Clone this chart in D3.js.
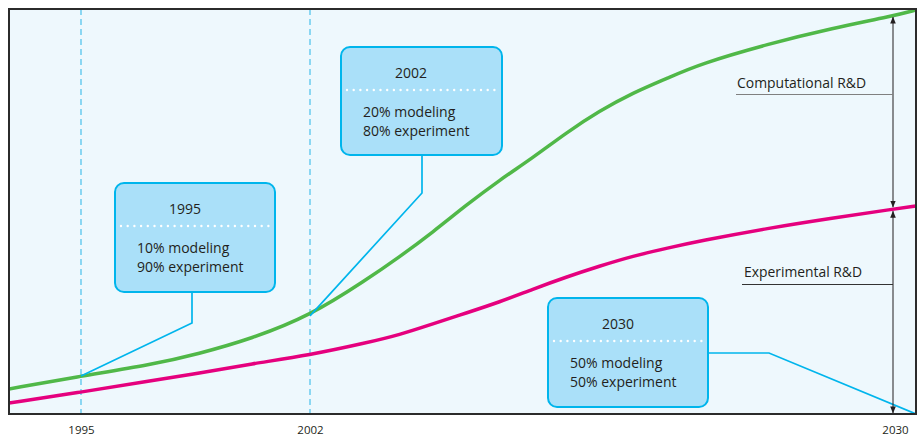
<!DOCTYPE html>
<html>
<head>
<meta charset="utf-8">
<script src="https://cdn.jsdelivr.net/npm/d3@7"></script>
<style>
  html, body { margin: 0; padding: 0; background: #ffffff; }
  svg { display: block; }
  text { font-family: "Open Sans", "Noto Sans", sans-serif; fill: #231f20; }
</style>
</head>
<body>
<svg id="chart" width="917" height="438"></svg>
<script>
// ---------- data ----------
const years = [1992.8, 1995, 1997.1, 1998.6, 2000.2, 2002, 2004.7, 2006.3, 2007.9, 2009.5, 2011.1, 2012.7, 2014.3, 2015.9, 2017.5, 2019.2, 2020.7, 2024.0, 2027.1, 2030, 2031.1];
const computational = [6.2, 9.4, 12.1, 14.9, 18.6, 24.3, 33.2, 38.9, 45.0, 51.7, 57.9, 63.4, 69.6, 75.0, 79.5, 83.2, 86.6, 91.6, 95.5, 98.5, 100];
const experimental = [2.7, 5.4, 8.2, 10.1, 12.4, 14.6, 17.6, 19.6, 22.3, 25.0, 27.7, 30.9, 33.9, 36.6, 39.1, 41.1, 42.8, 46.0, 48.5, 50.7, 51.5];
const tickYears = [1995, 2002, 2030];
const calloutYears = [1995, 2002, 2030];
const modelingShare = ["10%", "20%", "50%"];
const experimentShare = ["90%", "80%", "50%"];
const seriesNames = ["Computational R&D", "Experimental R&D"];

// ---------- layout ----------
const L = 9, T = 9, R = 916, B = 414;
const svg = d3.select("#chart");

// schematic (piecewise) time axis
const x = d3.scaleLinear()
  .domain([1992.8, 1995, 2002, 2030, 2031.1])
  .range([L, 81, 310, 893, R]);
const y = d3.scaleLinear().domain([0, 100]).range([B, T + 1]);

const colors = { comp: "#50b848", exp: "#e5007e", cyan: "#00b5ec", boxFill: "#aae0f9", bg: "#eef8fd" };

// background
svg.append("rect").attr("x", L).attr("y", T).attr("width", R - L).attr("height", B - T)
  .attr("fill", colors.bg);

// dashed year guides
svg.selectAll("line.guide").data([1995, 2002]).join("line")
  .attr("class", "guide")
  .attr("x1", d => x(d)).attr("x2", d => x(d))
  .attr("y1", T).attr("y2", B)
  .attr("stroke", "#29b5e8").attr("stroke-width", 1)
  .attr("stroke-dasharray", "6,4");

// lines
const line = d3.line().x(d => x(d[0])).y(d => y(d[1])).curve(d3.curveBasis);
const compData = years.map((yr, i) => [yr, computational[i]]);
const expData = years.map((yr, i) => [yr, experimental[i]]);

svg.append("clipPath").attr("id", "clip").append("rect")
  .attr("x", L).attr("y", T).attr("width", R - L).attr("height", B - T);
const g = svg.append("g").attr("clip-path", "url(#clip)");

const boxes = [
  { x: 115, y: 183, w: 160, h: 109, elbow: [192, 323], from: [192, 292] },
  { x: 341, y: 47, w: 161, h: 108, elbow: [422, 193], from: [422, 155] },
  { x: 548, y: 298, w: 160, h: 109, elbow: [769, 353], from: [708, 353] }
];
function anchor(i) {
  if (i === 2) return [x(2031.1), B];
  const idx = years.indexOf(calloutYears[i]);
  return [x(calloutYears[i]), y(computational[idx])];
}

g.append("path").attr("d", line(expData)).attr("fill", "none")
  .attr("stroke", colors.exp).attr("stroke-width", 3.5);
g.append("path").attr("d", line(compData)).attr("fill", "none")
  .attr("stroke", colors.comp).attr("stroke-width", 3.5);

boxes.forEach((b, i) => {
  const a = anchor(i);
  g.append("polyline")
    .attr("points", [b.from, b.elbow, a].map(p => p.join(",")).join(" "))
    .attr("fill", "none").attr("stroke", colors.cyan).attr("stroke-width", 1.7);
});

// callout boxes
boxes.forEach((b, i) => {
  const bg = svg.append("g");
  bg.append("rect").attr("x", b.x).attr("y", b.y).attr("width", b.w).attr("height", b.h)
    .attr("rx", 9).attr("ry", 9)
    .attr("fill", colors.boxFill).attr("stroke", colors.cyan).attr("stroke-width", 2);
  bg.append("text").attr("x", b.x + 70).attr("y", b.y + 31)
    .attr("text-anchor", "middle").attr("font-size", 14).text(calloutYears[i]);
  bg.append("line").attr("x1", b.x + 6).attr("x2", b.x + b.w - 4)
    .attr("y1", b.y + 43).attr("y2", b.y + 43)
    .attr("stroke", "#ffffff").attr("stroke-width", 2.4)
    .attr("stroke-linecap", "round").attr("stroke-dasharray", "0,6.7");
  bg.append("text").attr("x", b.x + 22).attr("y", b.y + 70)
    .attr("font-size", 14).text(modelingShare[i] + " modeling");
  bg.append("text").attr("x", b.x + 22).attr("y", b.y + 89)
    .attr("font-size", 14).text(experimentShare[i] + " experiment");
});

// right-side measurement arrows
const ax = x(2030);
const idx2030 = years.indexOf(2030);
const yComp = y(computational[idx2030]);
const yExp = y(experimental[idx2030]);
const defs = svg.append("defs");
defs.append("marker").attr("id", "arr").attr("viewBox", "0 0 8 8")
  .attr("refX", 7.5).attr("refY", 4).attr("markerWidth", 7).attr("markerHeight", 7)
  .attr("orient", "auto-start-reverse").attr("markerUnits", "userSpaceOnUse")
  .append("path").attr("d", "M0,0.8 L8,4 L0,7.2 Z").attr("fill", "#231f20");

svg.append("line").attr("x1", ax).attr("x2", ax).attr("y1", yComp + 1).attr("y2", yExp - 2)
  .attr("stroke", "#231f20").attr("stroke-width", 1)
  .attr("marker-start", "url(#arr)").attr("marker-end", "url(#arr)");
svg.append("line").attr("x1", ax).attr("x2", ax).attr("y1", yExp + 2).attr("y2", B - 1)
  .attr("stroke", "#231f20").attr("stroke-width", 1)
  .attr("marker-start", "url(#arr)").attr("marker-end", "url(#arr)");

// series labels with leader lines
const labels = [
  { name: seriesNames[0], tx: 737, ty: 88, ly: 94.5, lx: 736, stroke: "#808080", len: 129 },
  { name: seriesNames[1], tx: 744, ty: 277, ly: 284.5, lx: 742, stroke: "#333333", len: 118 }
];
labels.forEach(l => {
  svg.append("text").attr("x", l.tx).attr("y", l.ty).attr("font-size", 14)
    .attr("textLength", l.len).attr("lengthAdjust", "spacingAndGlyphs")
    .text(l.name);
  svg.append("line").attr("x1", l.lx).attr("x2", ax).attr("y1", l.ly).attr("y2", l.ly)
    .attr("stroke", l.stroke).attr("stroke-width", 1.2);
});

// frame
svg.append("rect").attr("x", L).attr("y", T).attr("width", R - L).attr("height", B - T)
  .attr("fill", "none").attr("stroke", "#2b2b2b").attr("stroke-width", 2);

// x axis
const axis = d3.axisBottom(x).tickValues(tickYears).tickFormat(d3.format("d"))
  .tickSize(0).tickPadding(12);
const axG = svg.append("g").attr("transform", `translate(0,${B})`).call(axis);
axG.select(".domain").remove();
axG.selectAll("text").attr("font-size", 11.5).attr("fill", "#231f20")
  .style("font-family", "'Open Sans', 'Noto Sans', sans-serif");
axG.selectAll(".tick").filter(d => d === 2030).select("text").attr("dx", 2);
</script>
</body>
</html>
